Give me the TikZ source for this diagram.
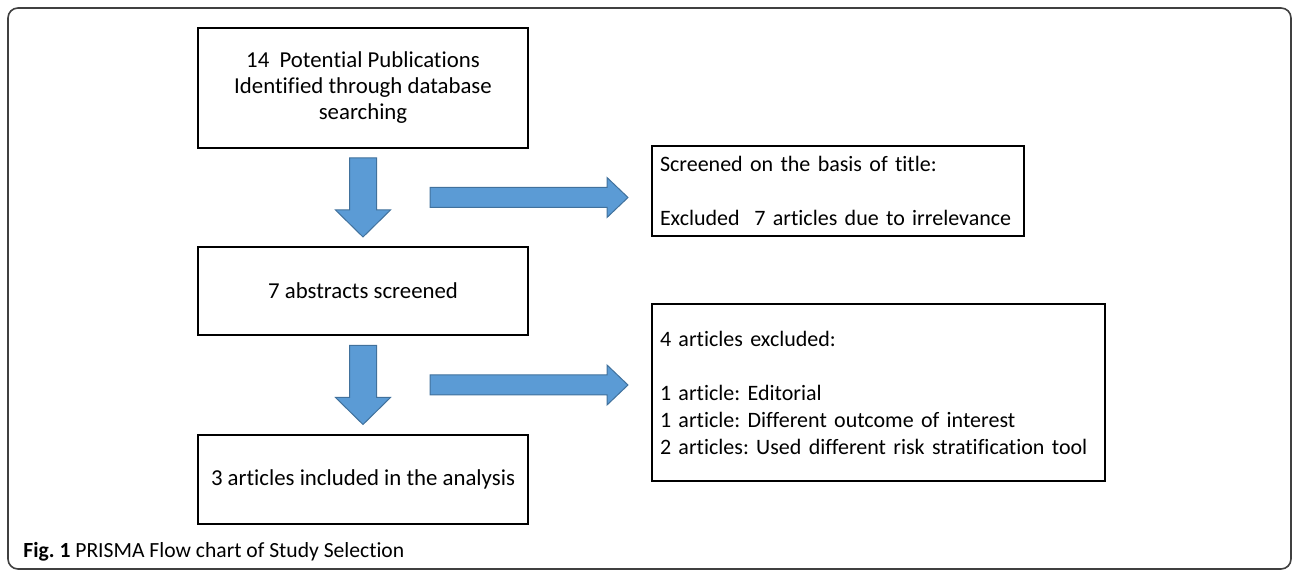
\documentclass[tikz,border=0pt]{standalone}
\usepackage{fontspec}
\setmainfont{Carlito}[Ligatures={NoCommon}]
\usetikzlibrary{calc}
\definecolor{arrowfill}{HTML}{5B9BD5}
\definecolor{arrowline}{HTML}{41719C}
\frenchspacing
\hyphenpenalty=10000
\begin{document}
\begin{tikzpicture}[x=0.5pt,y=-0.5pt]
    \tikzstyle{box}=[draw,line width=1pt,inner sep=4pt,font=\fontsize{11.4}{13}\selectfont]
    \tikzstyle{sidebox}=[box,align=left,font=\fontsize{11}{13.5}\selectfont]
    \tikzstyle{blockarrow}=[fill=arrowfill,draw=arrowline,line width=0.5pt,line join=miter]
    \tikzset{downarrow/.pic={\draw[blockarrow] (-13.5,-39.5) -- (13.5,-39.5) -- (13.5,12.5) -- (27.5,12.5) -- (0,39.5) -- (-27.5,12.5) -- (-13.5,12.5) -- cycle;},
             rightarrow/.pic={\draw[blockarrow] (-99,-10) -- (78,-10) -- (78,-20) -- (99,0) -- (78,20) -- (78,10) -- (-99,10) -- cycle;}}
    \useasboundingbox (0,0) rectangle (1292,571);
    \draw[line width=0.8pt,color=black!75,rounded corners=5pt] (8,8) rectangle (1291,569);

      \node (search) at (363, 88) [box,minimum width=165pt,minimum height=60pt,align=center] {14\ \ Potential Publications\\Identified through database\\searching};
      \node (abstracts) at (363, 291) [box,minimum width=165pt,minimum height=44pt] {7 abstracts screened};
      \node (included) at (363, 479.5) [box,minimum width=165pt,minimum height=44.5pt] {3 articles included in the analysis};
      \node (title) at (838, 191) [sidebox,minimum width=186pt,minimum height=45pt,text width=178pt] {Screened on the basis of title:\\[13.5pt]Excluded\ \ 7 articles due to irrelevance};
      \node (excluded) at (878.5, 392.5) [sidebox,minimum width=226.5pt,minimum height=88.5pt,text width=218.5pt] {4 articles excluded:\\[13.5pt]1 article: Editorial\\1 article: Different outcome of interest\\2 articles: Used different risk stratification tool};

      \pic at ($(search.south)!0.5!(abstracts.north)$) {downarrow};
      \pic at ($(abstracts.south)!0.5!(included.north)$) {downarrow};
      \pic at ($(search.south east)!0.5!(abstracts.north east)$) {rightarrow};
      \pic at ($(abstracts.south east)!0.5!(included.north east)$ |- excluded) {rightarrow};

      \node (caption) at (23, 552) [anchor=west,inner sep=0pt,font=\fontsize{10.8}{12}\selectfont] {\textbf{Fig. 1} PRISMA Flow chart of Study Selection};
  \end{tikzpicture}
\end{document}
